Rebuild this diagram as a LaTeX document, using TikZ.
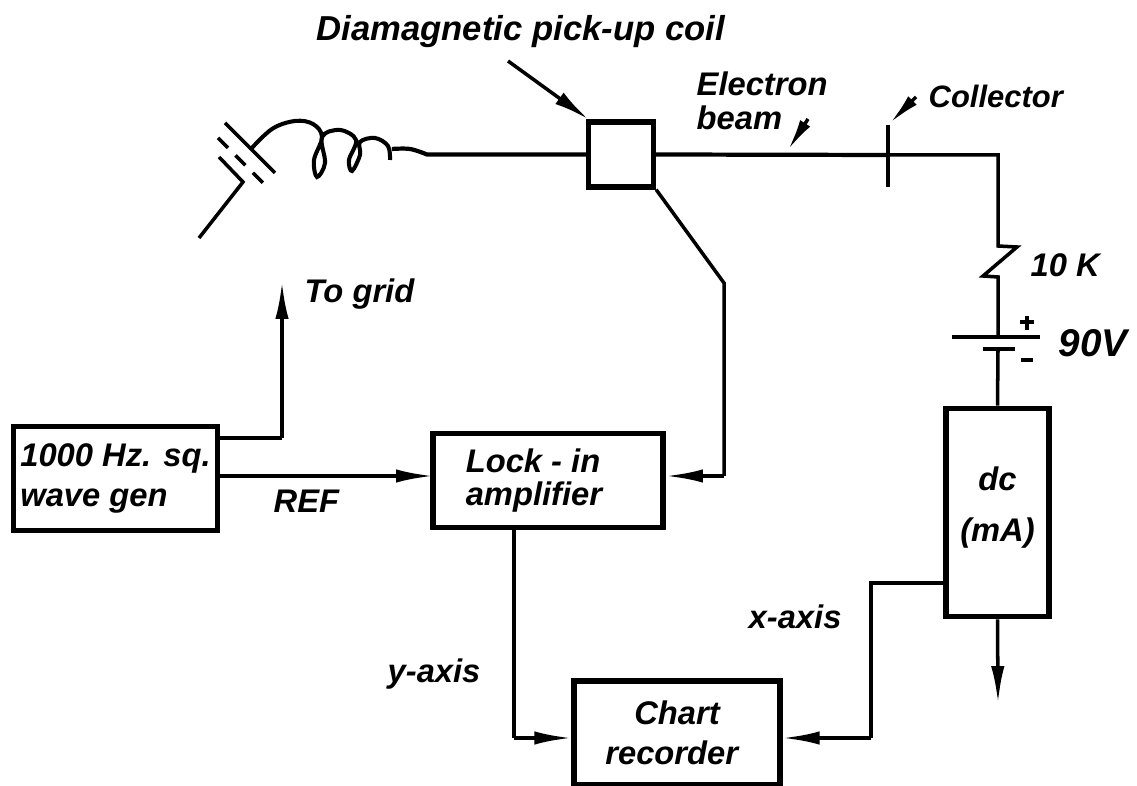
\documentclass[tikz,border=0pt]{standalone}
\usepackage{fontspec}
\setmainfont{Liberation Sans}
\usetikzlibrary{arrows.meta}
\begin{document}
\begin{tikzpicture}[x=0.01cm,y=-0.01cm]
\tikzstyle{every node}+=[inner sep=0pt]
\tikzset{
  blockbox/.style={draw=black,line width=1.6pt,fill=white,font=\fontsize{9.3}{11.5}\selectfont\itshape\bfseries},
  wire/.style={draw=black,line width=1pt},
  beamline/.style={draw=black,line width=1.2pt},
  tiparrow/.style={wire,-{Latex[length=10.5pt,width=3.8pt]}},
  pointer/.style={draw=black,line width=1pt,-{Latex[length=9pt,width=3.4pt]}},
  lbl/.style={font=\fontsize{9.3}{9.6}\selectfont\itshape\bfseries,align=left}
}
\useasboundingbox (0,0) rectangle (1137,786);
% boxes
\node [blockbox,minimum width=18.4pt,minimum height=18.4pt] (coil) at (621,154.5) {};
\node [blockbox,minimum width=58pt,minimum height=29.5pt,align=left] (gen) at (115.5,478.5) {1000 Hz. sq.\\wave gen};
\node [blockbox,minimum width=65.5pt,minimum height=26.8pt,align=left,font=\fontsize{9.3}{9.5}\selectfont\itshape\bfseries] (lockin) at (548,480.5) {Lock - in\\amplifier\hspace*{8pt}};
\node [blockbox,minimum width=58.5pt,minimum height=29.5pt,align=center] (chart) at (677,733) {Chart\\recorder\hspace*{3pt}};
\node [blockbox,minimum width=29.3pt,minimum height=59.2pt,align=center] (dc) at (997.5,512.5) {dc\\[3pt](mA)\\[-6.5pt]};
% junctions
\coordinate (coilin) at (427,154.5);
\coordinate (plate) at (888,155);
\coordinate (corner) at (998,155);
\coordinate (zigtop) at (998,246);
\coordinate (zigbot) at (998,277);
\coordinate (batlong) at (998,337);
\coordinate (batshort) at (998,349);
\coordinate (bend) at (724,283);
\coordinate (refin) at (433,476);
\coordinate (ampin) at (724,476);
\coordinate (gridup) at (282,438);
\coordinate (gridtip) at (282,282);
\coordinate (yaxis) at (514,738);
\coordinate (xaxis) at (871,738);
\coordinate (xtop) at (871,583);
\coordinate (dcout) at (998,703);
% emitter
\draw [wire] (225,123) -- (275,173);
\draw [wire,dash pattern=on 4pt off 3pt] (218,138) -- (264,184);
\draw [wire] (219,157) -- (243,182) -- (199,238);
\draw [wire,line width=1.15pt] plot [smooth,tension=0.6] coordinates {(250,150) (272,129) (295,121) (313,124) (322,137) (314,160) (317,177) (325,163) (322,137) (340,130) (356,140) (349,160) (352,171) (360,155) (360,142) (375,138) (388,146) (390,160)};
\draw [beamline] plot [smooth,tension=0.6] coordinates {(392,149) (410,149) (427,154.5)} -- (coil.west);
% collector and load
\draw [beamline] (coil.east) -- (plate);
\draw [wire] (plate) -- (corner) -- (zigtop) -- (1017,247) -- (983,276) -- (zigbot) -- (batlong);
\draw [beamline] (888,125) -- (888,187);
\draw [wire] (952,337) -- (1040,337);
\draw [wire] (983,349) -- (1015,349);
\draw [wire] (batshort) -- (dc.north);
\draw [wire] (1027,316) -- (1027,330);
\draw [wire] (1020,322) -- (1034,322);
\draw [wire] (1021,360) -- (1033,360);
% signal paths
\draw [wire] (coil.south east) -- (bend) -- (ampin);
\draw [tiparrow] (ampin) -- (ampin -| lockin.east);
\draw [tiparrow] (gen.east |- refin) -- (refin);
\draw [wire] (gen.east |- gridup) -- (gridup);
\draw [tiparrow] (gridup) -- (gridtip);
\draw [wire] (yaxis |- lockin.south) -- (yaxis);
\draw [tiparrow] (yaxis) -- (yaxis -| chart.west);
\draw [wire] (dc.west |- xtop) -- (xtop) -- (xaxis);
\draw [tiparrow] (xaxis) -- (xaxis -| chart.east);
\draw [tiparrow] (dc.south) -- (dcout);
% pointers
\draw [pointer,-{Latex[length=10pt,width=4pt]}] (508,61) -- (588,119);
\draw [pointer] (808,119) -- (788,150);
\draw [pointer] (916,97) -- (890,123);
% labels
\node [lbl,anchor=west,font=\fontsize{9.85}{10}\selectfont\itshape\bfseries] (coillbl) at (316,32) {Diamagnetic pick-up coil};
\node [lbl,anchor=west] (beamlbl) at (696,101) {Electron\\beam};
\node [lbl,anchor=west,font=\fontsize{8.8}{10}\selectfont\itshape\bfseries] (collbl) at (928,96) {Collector};
\node [lbl,anchor=west] (reslbl) at (1030,265) {10 K};
\node [lbl,anchor=west,font=\fontsize{11}{12}\selectfont\itshape\bfseries] (batlbl) at (1058,343) {90V};
\node [lbl,anchor=west] (gridlbl) at (304,294) {To grid};
\node [lbl,anchor=west] (reflbl) at (273,501) {REF};
\node [lbl,anchor=west] (xlbl) at (748,617) {x-axis};
\node [lbl,anchor=west] (ylbl) at (387,674) {y-axis};
\end{tikzpicture}
\end{document}
